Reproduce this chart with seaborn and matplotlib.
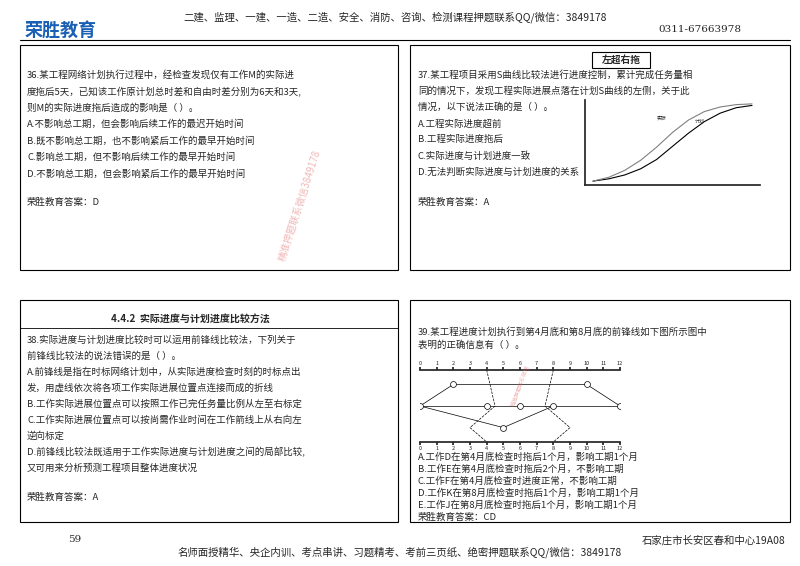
import matplotlib
matplotlib.use("Agg")
import matplotlib.pyplot as plt
import seaborn as sns
import pandas as pd
from matplotlib.patches import Rectangle

sns.set_theme(style="white")
plt.rcParams['font.family'] = ['Noto Sans CJK SC', 'DejaVu Sans']

header = "二建、监理、一建、一造、二造、安全、消防、咨询、检测课程押题联系QQ/微信：3849178"
footer = "名师面授精华、央企内训、考点串讲、习题精考、考前三页纸、绝密押题联系QQ/微信：3849178"
q36 = ["36.某工程网络计划执行过程中，经检查发现仅有工作M的实际进",
       "度拖后5天，已知该工作原计划总时差和自由时差分别为6天和3天,",
       "则M的实际进度拖后造成的影响是（ ）。",
       "A.不影响总工期，但会影响后续工作的最迟开始时间",
       "B.既不影响总工期，也不影响紧后工作的最早开始时间",
       "C.影响总工期，但不影响后续工作的最早开始时间",
       "D.不影响总工期，但会影响紧后工作的最早开始时间"]
q37 = ["37.某工程项目采用S曲线比较法进行进度控制，累计完成任务量相",
       "同的情况下，发现工程实际进展点落在计划S曲线的左侧，关于此",
       "情况，以下说法正确的是（ ）。",
       "A.工程实际进度超前", "B.工程实际进度拖后",
       "C.实际进度与计划进度一致", "D.无法判断实际进度与计划进度的关系"]
q38 = ["38.实际进度与计划进度比较时可以运用前锋线比较法，下列关于",
       "前锋线比较法的说法错误的是（ ）。",
       "A.前锋线是指在时标网络计划中，从实际进度检查时刻的时标点出",
       "发，用虚线依次将各项工作实际进展位置点连接而成的折线",
       "B.工作实际进展位置点可以按照工作已完任务量比例从左至右标定",
       "C.工作实际进展位置点可以按尚需作业时间在工作箭线上从右向左",
       "逆向标定",
       "D.前锋线比较法既适用于工作实际进度与计划进度之间的局部比较,",
       "又可用来分析预测工程项目整体进度状况"]
q39 = ["39.某工程进度计划执行到第4月底和第8月底的前锋线如下图所示图中",
       "表明的正确信息有（ ）。"]
q39opts = ["A.工作D在第4月底检查时拖后1个月，影响工期1个月",
           "B.工作E在第4月底检查时拖后2个月，不影响工期",
           "C.工作F在第4月底检查时进度正常，不影响工期",
           "D.工作K在第8月底检查时拖后1个月，影响工期1个月",
           "E.工作J在第8月底检查时拖后1个月，影响工期1个月",
           "荣胜教育答案：CD"]

# S-curve data
s_t = [0, 1, 2, 3, 4, 5, 6, 7, 8, 9, 10]
s_plan = [0, 3, 8, 16, 28, 45, 62, 77, 88, 95, 98]
s_act = [0, 5, 14, 27, 44, 63, 79, 90, 96, 99, 100]
months = list(range(13))

fig = plt.figure(figsize=(8, 5.66), dpi=100)
ax = fig.add_axes([0, 0, 1, 1])
ax.set_xlim(0, 800); ax.set_ylim(566, 0); ax.axis('off')

ax.text(25, 30, "荣胜教育", fontsize=13, color="#1a5fb4", weight="bold", va="center")
ax.text(395, 17, header, fontsize=7.5, ha="center", va="center")
ax.text(700, 30, "0311-67663978", fontsize=7.5, ha="center", va="center", family="DejaVu Serif")
ax.plot([20, 790], [40, 40], color="black", lw=0.8)

for x0, y0, w, h in [(20, 45, 378, 225), (410, 45, 380, 225), (20, 300, 378, 222), (410, 300, 380, 222)]:
    ax.add_patch(Rectangle((x0, y0), w, h, fill=False, ec="black", lw=0.8))

fs = 6.8
for i, t in enumerate(q36):
    ax.text(27, 75 + i * 16.5, t, fontsize=fs, va="center")
ax.text(27, 202, "荣胜教育答案：D", fontsize=fs, va="center")
ax.text(300, 205, "精准押题联系微信3849178", fontsize=7, color="#e07070", alpha=0.5,
        rotation=72, ha="center", va="center")

ax.add_patch(Rectangle((592, 52), 58, 16, fill=False, ec="black", lw=0.8))
ax.text(621, 60, "左超右拖", fontsize=7, weight="bold", ha="center", va="center")
for i, t in enumerate(q37):
    ax.text(418, 75 + i * 16.2, t, fontsize=fs, va="center")
ax.text(418, 202, "荣胜教育答案：A", fontsize=fs, va="center")

# S-curve inset
ins = fig.add_axes([585 / 800, 1 - 185 / 566, 175 / 800, 85 / 566])
df = pd.DataFrame({"t": s_t * 2, "v": s_plan + s_act,
                   "s": ["计划"] * len(s_t) + ["实际"] * len(s_t)})
sns.lineplot(data=df, x="t", y="v", hue="s", palette=["black", "gray"], lw=0.8,
             legend=False, ax=ins)
ins.set_xlabel(""); ins.set_ylabel(""); ins.set_xticks([]); ins.set_yticks([])
for sp in ["top", "right"]:
    ins.spines[sp].set_visible(False)
ins.text(6.4, 75, "计划", fontsize=3.5); ins.text(4, 80, "实际", fontsize=3.5)
ins.patch.set_alpha(0)

ax.text(190, 319, "4.4.2  实际进度与计划进度比较方法", fontsize=7.2, weight="bold", ha="center", va="center")
ax.plot([20, 398], [328, 328], color="black", lw=0.6)
for i, t in enumerate(q38):
    ax.text(27, 340 + i * 16, t, fontsize=fs, va="center")
ax.text(27, 497, "荣胜教育答案：A", fontsize=fs, va="center")

for i, t in enumerate(q39):
    ax.text(418, 332 + i * 13, t, fontsize=fs, va="center")
for i, t in enumerate(q39opts):
    ax.text(418, 457 + i * 12, t, fontsize=fs, va="center")

# network inset
net = fig.add_axes([420 / 800, 1 - 442 / 566, 200 / 800, 72 / 566])
net.set_xlim(0, 12); net.set_ylim(0, 5)
net.set_xticks(months)
net.tick_params(labelsize=4, length=2, pad=1, top=True, labeltop=True, bottom=True, labelbottom=True)
net.set_yticks([])
nodes_x = [0, 2, 4, 5, 6, 8, 10, 12]
nodes_y = [2.5, 4, 2.5, 1, 2.5, 2.5, 4, 2.5]
edges = [(0, 1), (0, 2), (0, 3), (1, 6), (2, 4), (4, 5), (5, 7), (3, 5), (6, 7)]
for a, b in edges:
    net.plot([nodes_x[a], nodes_x[b]], [nodes_y[a], nodes_y[b]], color="black", lw=0.5)
net.scatter(nodes_x, nodes_y, s=18, facecolor="white", edgecolor="black", lw=0.5, zorder=3)
net.plot([4, 4.5, 3, 4], [5, 2.5, 1, 0], ls="--", color="black", lw=0.5)
net.plot([8, 7.5, 9, 8], [5, 2.5, 1, 0], ls="--", color="black", lw=0.5)
net.text(6, 2.5, "精准押题联系微信", fontsize=4, color="#e07070", alpha=0.5, rotation=70, ha="center")
for sp in ["right", "left"]:
    net.spines[sp].set_visible(False)
net.patch.set_alpha(0)

ax.text(68, 540, "59", fontsize=7.5, va="center", family="DejaVu Serif")
ax.text(785, 540, "石家庄市长安区春和中心19A08", fontsize=7.5, ha="right", va="center")
ax.text(400, 552, footer, fontsize=7.5, ha="center", va="center")

fig.savefig("out.png", dpi=100)
